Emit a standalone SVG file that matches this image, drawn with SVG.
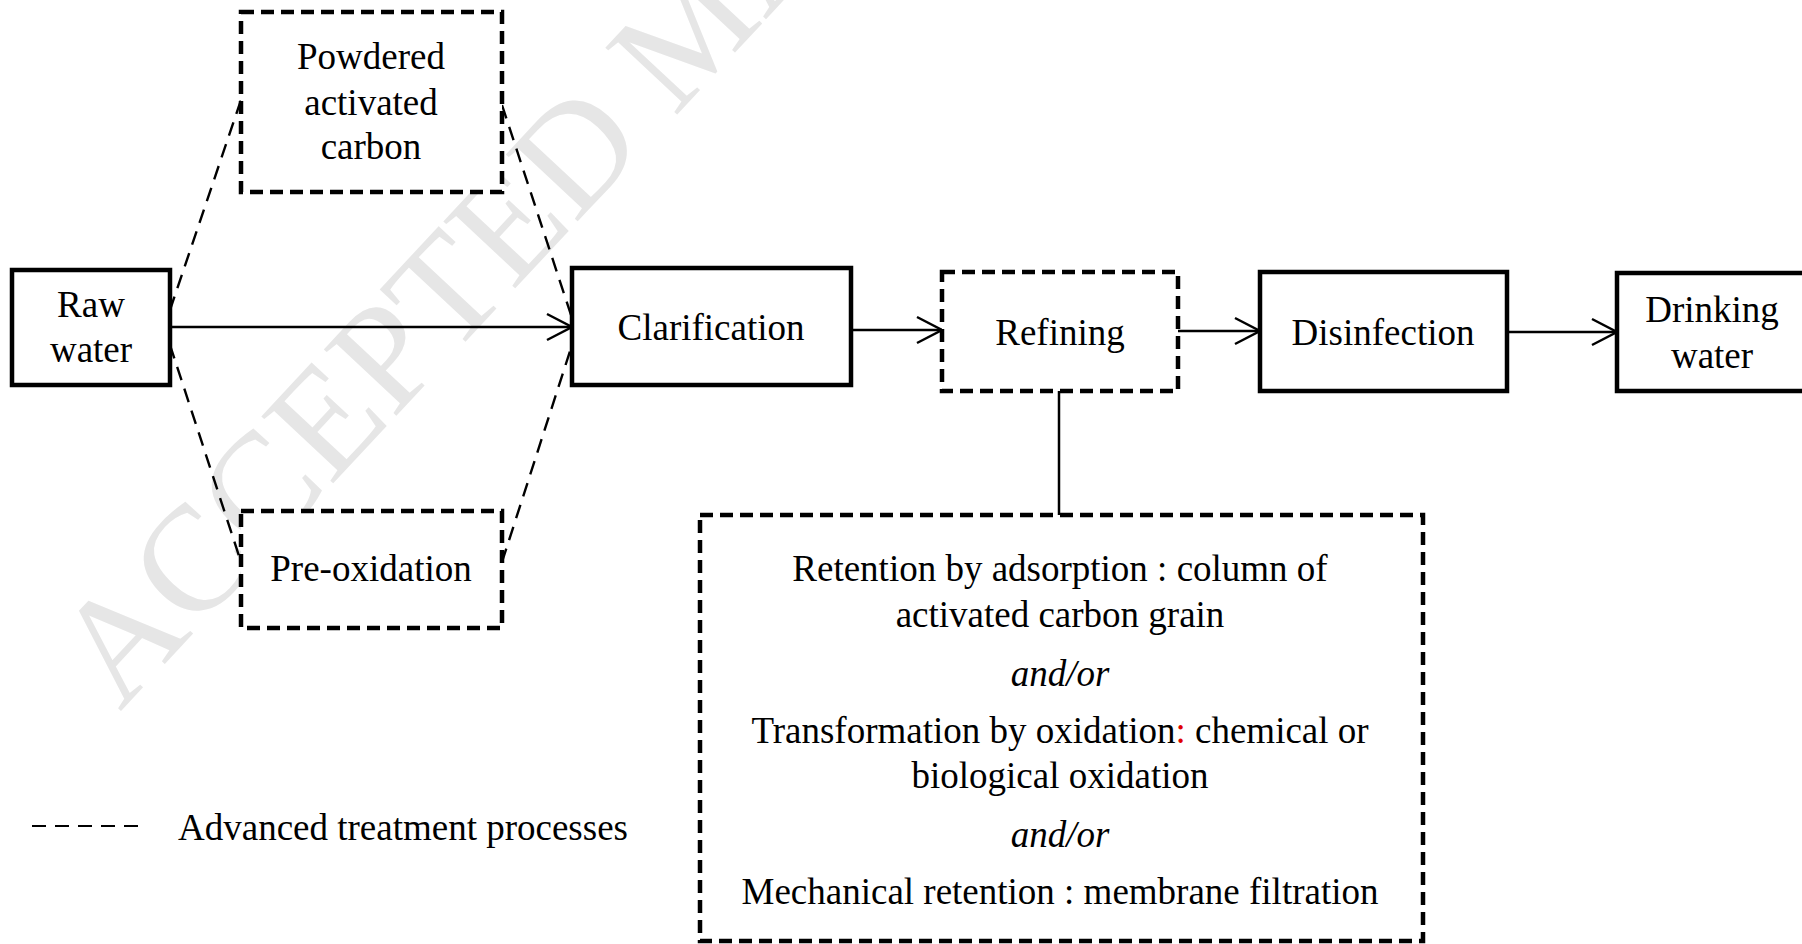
<svg xmlns="http://www.w3.org/2000/svg" width="1802" height="944" viewBox="0 0 1802 944">
<style>
.t{font-family:"Liberation Serif","Times New Roman",serif;font-size:37px;fill:#000;text-anchor:middle}
.it{font-style:italic}
.solid{fill:#fff;stroke:#000;stroke-width:4.5}
.dash{fill:#fff;stroke:#000;stroke-width:4.5;stroke-dasharray:13 7}
.conn{stroke:#000;stroke-width:2.5;fill:none}
.dconn{stroke:#000;stroke-width:2.4;fill:none;stroke-dasharray:14 9}
.wm{font-family:"Liberation Serif","Times New Roman",serif;font-size:150px;fill:#e6e6e6}
</style>
<defs>
<marker id="arr" markerUnits="userSpaceOnUse" markerWidth="30" markerHeight="30" viewBox="0 0 30 30" refX="27" refY="15" orient="auto">
<path d="M2,2 L27,15 L2,28" fill="none" stroke="#000" stroke-width="2.5"/>
</marker>
</defs>
<rect width="1802" height="944" fill="#fff"/>
<text class="wm" transform="translate(120,712) rotate(-47)">ACCEPTED MANUSCRIPT</text>
<g id="connectors">
<line class="dconn" x1="170" y1="310" x2="241" y2="100"/>
<line class="dconn" x1="502" y1="105" x2="572" y2="318"/>
<line class="dconn" x1="170" y1="345" x2="241" y2="562"/>
<line class="dconn" x1="502" y1="562" x2="572" y2="345"/>
<line class="conn" x1="170" y1="327" x2="572" y2="327" marker-end="url(#arr)"/>
<line class="conn" x1="851" y1="330" x2="942" y2="330" marker-end="url(#arr)"/>
<line class="conn" x1="1178" y1="331" x2="1260" y2="331" marker-end="url(#arr)"/>
<line class="conn" x1="1507" y1="332" x2="1617" y2="332" marker-end="url(#arr)"/>
<line class="conn" x1="1059" y1="391" x2="1059" y2="515"/>
</g>
<g id="pac">
<rect class="dash" x="241" y="12" width="261" height="180"/>
<text class="t" x="371" y="69">Powdered</text>
<text class="t" x="371" y="115">activated</text>
<text class="t" x="371" y="159">carbon</text>
</g>
<g id="raw">
<rect class="solid" x="12" y="270" width="158" height="115"/>
<text class="t" x="91" y="317">Raw</text>
<text class="t" x="91" y="362">water</text>
</g>
<g id="clarification">
<rect class="solid" x="572" y="268" width="279" height="117"/>
<text class="t" x="711" y="340">Clarification</text>
</g>
<g id="refining">
<rect class="dash" x="942" y="272" width="236" height="119"/>
<text class="t" x="1060" y="345">Refining</text>
</g>
<g id="disinfection">
<rect class="solid" x="1260" y="272" width="247" height="119"/>
<text class="t" x="1383" y="345">Disinfection</text>
</g>
<g id="drinking">
<rect class="solid" x="1617" y="273" width="200" height="118"/>
<text class="t" x="1712" y="322">Drinking</text>
<text class="t" x="1712" y="368">water</text>
</g>
<g id="preox">
<rect class="dash" x="241" y="511" width="261" height="117"/>
<text class="t" x="371" y="581">Pre-oxidation</text>
</g>
<g id="refining-detail">
<rect class="dash" x="700" y="515" width="723" height="426"/>
<text class="t" x="1060" y="581">Retention by adsorption : column of</text>
<text class="t" x="1060" y="627">activated carbon grain</text>
<text class="t it" x="1060" y="686">and/or</text>
<text class="t" x="1060" y="743">Transformation by oxidation<tspan fill="#e00000">:</tspan> chemical or</text>
<text class="t" x="1060" y="788">biological oxidation</text>
<text class="t it" x="1060" y="847">and/or</text>
<text class="t" x="1060" y="904">Mechanical  retention : membrane filtration</text>
</g>
<g id="legend">
<line x1="32" y1="826" x2="140" y2="826" stroke="#000" stroke-width="2.2" stroke-dasharray="14 9"/>
<text class="t" x="178" y="840" style="text-anchor:start">Advanced treatment processes</text>
</g>
</svg>
